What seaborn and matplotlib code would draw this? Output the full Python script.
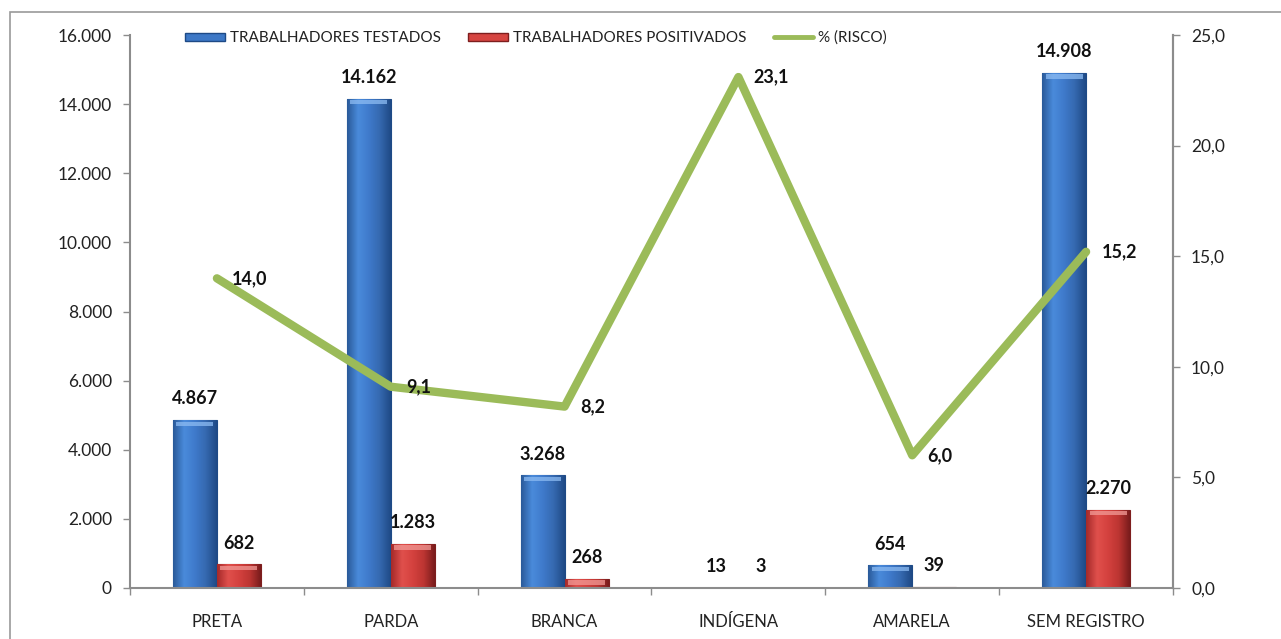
import matplotlib
matplotlib.use("Agg")
import matplotlib.pyplot as plt
import seaborn as sns
import pandas as pd
import numpy as np
from matplotlib.patches import Rectangle
from matplotlib.lines import Line2D
from matplotlib.colors import LinearSegmentedColormap
from matplotlib.ticker import FuncFormatter, MultipleLocator

categories = ["PRETA", "PARDA", "BRANCA", "INDÍGENA", "AMARELA", "SEM REGISTRO"]
testados = [4867, 14162, 3268, 13, 654, 14908]
positivados = [682, 1283, 268, 3, 39, 2270]
risco = [14.0, 9.1, 8.2, 23.1, 6.0, 15.2]

serie_testados = "TRABALHADORES TESTADOS"
serie_positivados = "TRABALHADORES POSITIVADOS"
serie_risco = "% (RISCO)"

sns.set_theme(style="white")
plt.rcParams["font.family"] = ["Lato", "DejaVu Sans"]

BLUE = "#3D78C6"
BLUE_EDGE = "#1E4A86"
RED = "#D64541"
RED_EDGE = "#7E1E1E"
GREEN = "#9BBB59"
GRAY = "#8C8C8C"

blue_grad = LinearSegmentedColormap.from_list(
    "blue_bar", ["#2A5A9A", "#4A8BDB", "#3F7ACB", "#3569B0", "#1F4A86"])
red_grad = LinearSegmentedColormap.from_list(
    "red_bar", ["#A52A2A", "#E0504C", "#D4413E", "#BC3532", "#7A1C1C"])

df = pd.DataFrame({
    "categoria": categories * 2,
    "serie": [serie_testados] * len(categories) + [serie_positivados] * len(categories),
    "valor": testados + positivados,
})

fig = plt.figure(figsize=(12.81, 6.39), dpi=100)
ax = fig.add_axes([130 / 1281, 1 - 588 / 639, (1173 - 130) / 1281, (588 - 35) / 639])

sns.barplot(data=df, x="categoria", y="valor", hue="serie", order=categories,
            hue_order=[serie_testados, serie_positivados],
            palette=[BLUE, RED], width=0.506, ax=ax, legend=False,
            saturation=1, linewidth=0)

ax.set_ylim(0, 16000)
ax.set_xlim(-0.5, len(categories) - 0.5)

# horizontal shading and a light top bevel on each bar
grad = np.linspace(0, 1, 64).reshape(1, -1)
for i, container in enumerate(ax.containers):
    edge = BLUE_EDGE if i == 0 else RED_EDGE
    cmap = blue_grad if i == 0 else red_grad
    light = "#8CBBF2" if i == 0 else "#F29A96"
    for bar in container:
        x, w, h = bar.get_x(), bar.get_width(), bar.get_height()
        bar.set_edgecolor(edge)
        bar.set_linewidth(0.8)
        im = ax.imshow(grad, cmap=cmap, aspect="auto", extent=(x, x + w, 0, h),
                       interpolation="bicubic", zorder=2.5)
        im.set_clip_path(bar)
        if h > 150:
            ax.add_patch(Rectangle((x + w * 0.08, h - 170), w * 0.84, 120,
                                   facecolor=light, edgecolor="none", alpha=0.75, zorder=3))

ax.set_ylim(0, 16000)
ax.set_xlim(-0.5, len(categories) - 0.5)
ax.yaxis.set_major_locator(MultipleLocator(2000))
ax.yaxis.set_major_formatter(FuncFormatter(lambda v, p: f"{int(v):,}".replace(",", ".")))
ax.set_xlabel("")
ax.set_ylabel("")

ax.spines["top"].set_visible(False)
for s in ["left", "bottom", "right"]:
    ax.spines[s].set_color(GRAY)
    ax.spines[s].set_linewidth(1.5)

ax.tick_params(axis="y", direction="out", length=5, width=1, color=GRAY, left=True,
               labelsize=12.5, labelcolor="#222222", pad=8)
ax.tick_params(axis="x", which="major", length=0, labelsize=12, labelcolor="#222222", pad=19)
ax.set_xticks(np.arange(-0.5, len(categories) + 0.5, 1), minor=True)
ax.tick_params(axis="x", which="minor", direction="out", length=5, width=1, color=GRAY, bottom=True)

# value labels above bars
for container, values in zip(ax.containers, [testados, positivados]):
    labels = [f"{v:,}".replace(",", ".") for v in values]
    ax.bar_label(container, labels=labels, padding=9, fontsize=13, fontweight="bold",
                 color="#111111")

ax2 = ax.twinx()
ax2.set_position(ax.get_position())
sns.lineplot(x=np.arange(len(categories)), y=risco, ax=ax2, color=GREEN, linewidth=6,
             solid_joinstyle="round", solid_capstyle="round")
ax2.set_ylim(0, 25)
ax2.yaxis.set_major_locator(MultipleLocator(5))
ax2.yaxis.set_major_formatter(FuncFormatter(lambda v, p: f"{v:.1f}".replace(".", ",")))
ax2.tick_params(axis="y", direction="out", length=5, width=1, color=GRAY, right=True,
                labelsize=12.5, labelcolor="#222222", pad=8)
for s in ["top", "left", "bottom"]:
    ax2.spines[s].set_visible(False)
ax2.spines["right"].set_color(GRAY)
ax2.spines["right"].set_linewidth(1.5)
ax2.set_ylabel("")

for i, v in enumerate(risco):
    ax2.annotate(f"{v:.1f}".replace(".", ","), (i, v), xytext=(11, 0),
                 textcoords="offset points", ha="left", va="center",
                 fontsize=13, fontweight="bold", color="#111111")

handles = [
    Rectangle((0, 0), 1, 1, facecolor=BLUE, edgecolor=BLUE_EDGE),
    Rectangle((0, 0), 1, 1, facecolor=RED, edgecolor=RED_EDGE),
    Line2D([0], [0], color=GREEN, linewidth=3.5),
]
fig.legend(handles, [serie_testados, serie_positivados, serie_risco], loc="center",
           bbox_to_anchor=(536 / 1281, 1 - 38 / 639), ncol=3, frameon=False,
           fontsize=11, handlelength=2.6, handleheight=0.45, handletextpad=0.3,
           columnspacing=1.8, labelcolor="#222222")

# chart area border
fig.patches.append(Rectangle((10 / 1281, -0.01), 1.2, 1 - 12 / 639 + 0.01,
                             transform=fig.transFigure, fill=False,
                             edgecolor="#9A9A9A", linewidth=1.2, zorder=0))

fig.savefig("out.png", dpi=100)
